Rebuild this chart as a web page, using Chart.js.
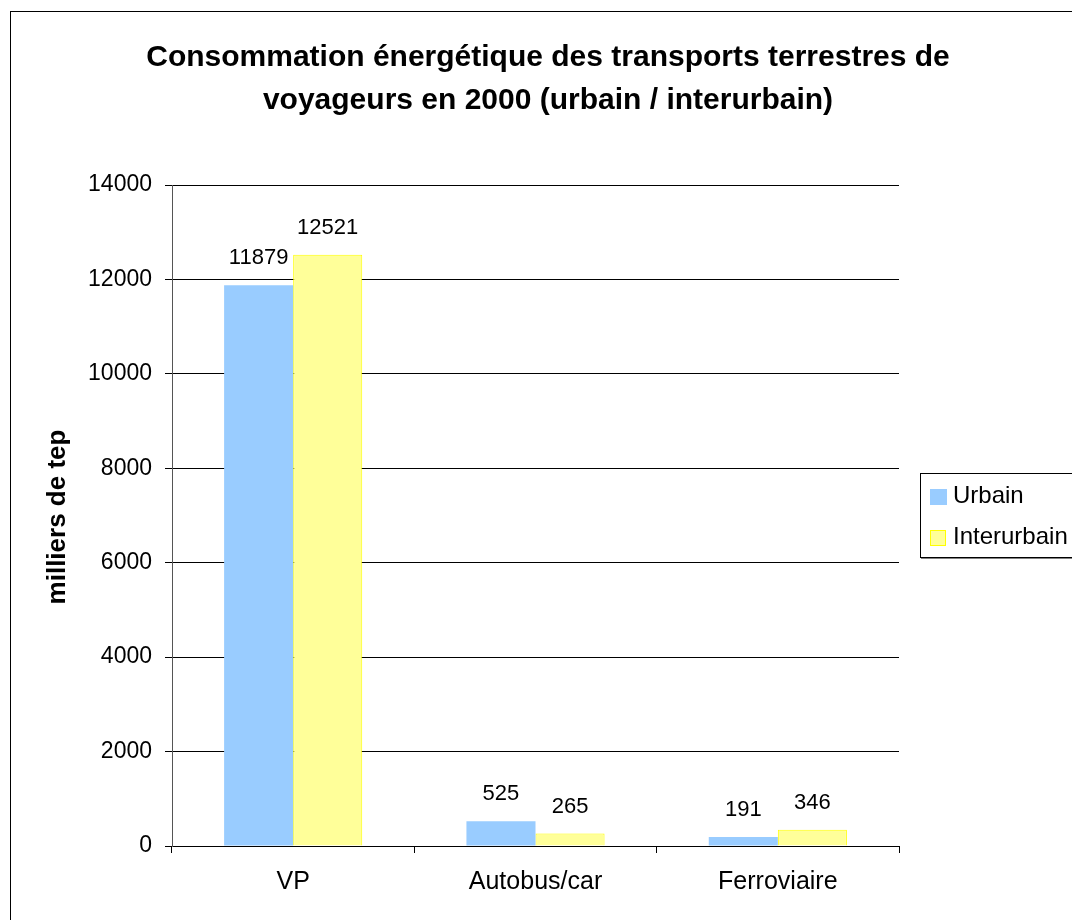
<!DOCTYPE html>
<html>
<head>
<meta charset="utf-8">
<script src="https://cdn.jsdelivr.net/npm/chart.js@4"></script>
<style>
  html, body { margin: 0; padding: 0; background: #fff; }
  #wrap { width: 1072px; height: 920px; position: relative; }
</style>
</head>
<body>
<div id="wrap"><canvas id="chart" width="1072" height="920"></canvas></div>
<script>
const categories = ["VP", "Autobus/car", "Ferroviaire"];
const urbain = [11879, 525, 191];
const interurbain = [12521, 265, 346];
const titleLines = ["Consommation énergétique des transports terrestres de", "voyageurs en 2000 (urbain / interurbain)"];
const yTitle = "milliers de tep";
const seriesNames = ["Urbain", "Interurbain"];

const FONT = "'Liberation Sans', Arial, sans-serif";

// frame, title, axis title, legend and value labels
const decor = {
  id: "decor",
  afterDraw(chart) {
    const ctx = chart.ctx;
    ctx.save();
    ctx.strokeStyle = "#000";
    ctx.lineWidth = 1;
    ctx.strokeRect(10.5, 11.5, 1200, 1000);

    ctx.fillStyle = "#000";
    ctx.textAlign = "center";
    ctx.textBaseline = "middle";
    ctx.font = "bold 30px " + FONT;
    ctx.fillText(titleLines[0], 548, 58);
    ctx.fillText(titleLines[1], 548, 101);

    ctx.save();
    ctx.translate(58, 517);
    ctx.rotate(-Math.PI / 2);
    ctx.font = "bold 26px " + FONT;
    ctx.fillText(yTitle, 0, 0);
    ctx.restore();

    // value labels
    ctx.font = "22px " + FONT;
    chart.data.datasets.forEach((ds, i) => {
      chart.getDatasetMeta(i).data.forEach((bar, j) => {
        ctx.fillText(String(ds.data[j]), bar.x, bar.y - 27);
      });
    });

    // legend
    ctx.fillStyle = "#fff";
    ctx.fillRect(920, 473, 200, 84);
    ctx.strokeStyle = "#808080";
    ctx.beginPath();
    ctx.moveTo(921, 558.5);
    ctx.lineTo(1100, 558.5);
    ctx.stroke();
    ctx.strokeStyle = "#000";
    ctx.strokeRect(920.5, 473.5, 200, 84);
    ctx.fillStyle = "#99ccff";
    ctx.fillRect(930, 489, 17, 16);
    ctx.fillStyle = "#ffff99";
    ctx.fillRect(930, 530, 16, 16);
    ctx.strokeStyle = "#ffff00";
    ctx.strokeRect(930.5, 530.5, 15, 15);
    ctx.fillStyle = "#000";
    ctx.textAlign = "left";
    ctx.font = "24px " + FONT;
    ctx.fillText(seriesNames[0], 953, 496);
    ctx.fillText(seriesNames[1], 953, 537);
    ctx.restore();
  },
};

new Chart(document.getElementById("chart"), {
  type: "bar",
  data: {
    labels: categories,
    datasets: [
      { label: seriesNames[0], data: urbain, backgroundColor: "#99ccff", borderWidth: 0 },
      { label: seriesNames[1], data: interurbain, backgroundColor: "#ffff99", borderColor: "#ffff00", borderWidth: 1 },
    ],
  },
  options: {
    responsive: false,
    animation: false,
    events: [],
    layout: { padding: { left: 0, top: 185, right: 173, bottom: 22 } },
    datasets: { bar: { categoryPercentage: 0.57, barPercentage: 1 } },
    plugins: { legend: { display: false }, title: { display: false }, tooltip: { enabled: false } },
    scales: {
      x: {
        afterFit(s) { s.height = 52; },
        grid: { offset: true, drawOnChartArea: false, tickLength: 7, color: "#000" },
        border: { color: "#000" },
        ticks: { color: "#000", font: { family: FONT, size: 25 }, padding: 14 },
      },
      y: {
        min: 0,
        max: 14000,
        afterFit(s) { s.width = 172; },
        grid: { color: "#000", tickLength: 7 },
        border: { color: "#555" },
        ticks: { stepSize: 2000, color: "#000", font: { family: FONT, size: 23 }, padding: 13, callback: (v) => String(v) },
      },
    },
  },
  plugins: [decor],
});
</script>
</body>
</html>
